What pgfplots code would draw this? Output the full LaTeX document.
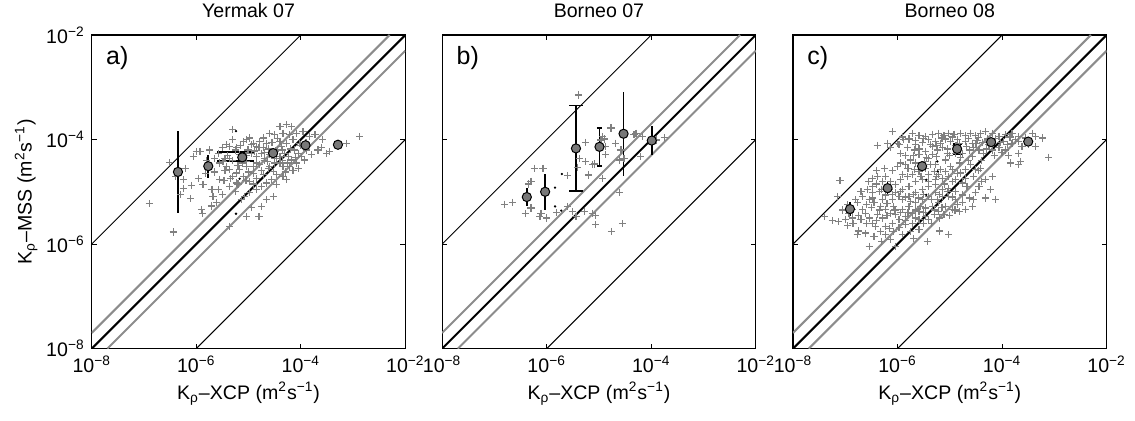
\documentclass[border=0pt]{standalone}
\usepackage{fontspec}
\setmainfont{Liberation Sans}
\usepackage{pgfplots}
\usepackage{pgfplotstable}
\pgfplotsset{compat=1.18}
\usetikzlibrary{calc}

\definecolor{ptgray}{gray}{0.5}
\definecolor{lngray}{gray}{0.55}
\definecolor{binfill}{gray}{0.47}

% log10 values of K_rho (XCP, MSS)
\pgfplotstableread{
lx lm
-6.90 -5.23
-6.44 -5.77
-6.51 -4.44
-6.25 -4.77
-6.25 -4.93
-6.09 -4.88
-6.11 -5.13
-5.96 -4.74
-6.06 -4.32
-6.00 -4.23
-5.93 -4.23
-5.74 -4.20
-5.82 -4.65
-5.87 -4.86
-5.90 -5.34
-5.88 -5.41
-5.71 -5.27
-5.68 -5.09
-5.58 -4.96
-5.55 -4.77
-5.47 -4.78
-5.30 -3.81
-5.42 -4.10
-5.36 -4.13
-5.45 -4.36
-5.42 -4.51
-5.36 -4.58
-5.30 -4.71
-5.23 -4.64
-5.17 -4.58
-5.10 -4.04
-5.04 -4.00
-4.98 -3.97
-4.91 -4.07
-4.85 -4.13
-5.01 -4.20
-4.95 -4.26
-4.79 -4.04
-4.72 -3.97
-4.66 -4.07
-4.72 -4.16
-4.75 -4.26
-4.69 -4.36
-4.63 -4.42
-4.60 -4.51
-4.53 -4.61
-4.47 -4.67
-4.56 -4.77
-4.66 -4.83
-4.75 -4.90
-4.85 -4.96
-4.98 -5.02
-5.07 -5.09
-5.14 -5.15
-5.04 -5.47
-4.80 -5.48
-5.36 -5.66
-4.40 -3.75
-4.28 -3.72
-4.18 -3.75
-4.34 -3.88
-4.21 -3.91
-4.15 -4.00
-4.28 -4.07
-4.37 -4.13
-4.44 -4.20
-4.31 -4.26
-4.24 -4.32
-4.18 -4.39
-4.12 -4.20
-4.05 -4.26
-3.99 -4.32
-3.93 -4.39
-4.09 -3.88
-3.96 -3.85
-3.83 -3.94
-3.73 -3.91
-3.67 -4.20
-3.61 -4.16
-3.51 -4.26
-3.45 -4.23
-3.80 -4.29
-4.02 -4.07
-3.89 -4.20
-4.50 -3.91
-4.60 -3.88
-4.34 -4.51
-4.40 -4.45
-4.21 -4.51
-4.09 -4.45
-2.87 -3.94
-3.13 -4.07
-3.58 -4.00
-4.72 -4.67
-4.85 -4.74
-4.98 -4.80
-5.10 -4.71
-5.23 -4.83
-5.36 -4.90
-5.49 -4.42
-5.55 -4.45
-5.58 -4.26
-5.65 -4.36
-5.74 -4.51
-4.47 -4.86
-4.53 -5.09
-4.66 -5.15
-4.75 -5.28
-4.47 -4.36
-4.60 -4.29
-4.85 -4.32
-4.79 -4.48
-4.91 -4.51
-5.04 -4.42
-5.17 -4.29
-5.23 -4.16
-5.30 -4.00
-5.36 -4.36
-5.04 -4.51
-4.40 -4.04
-4.34 -4.71
-4.28 -4.77
-5.25 -4.20
-5.15 -4.12
-5.05 -4.30
-4.95 -4.10
-4.88 -4.22
-4.80 -4.15
-4.70 -4.25
-4.62 -4.18
-4.55 -4.30
-4.48 -4.22
-4.40 -4.32
-4.35 -4.40
-4.25 -4.45
-4.50 -4.45
-4.62 -4.55
-4.75 -4.60
-4.90 -4.65
-5.00 -4.62
-5.12 -4.45
-5.20 -4.50
-5.30 -4.40
-5.40 -4.30
-5.50 -4.15
-5.45 -4.60
-5.35 -4.75
-5.20 -4.85
-5.05 -4.78
-4.90 -4.85
-4.85 -4.45
-4.70 -4.40
-4.55 -4.05
-4.45 -3.98
-4.35 -4.20
-4.20 -4.18
-4.10 -4.35
-4.00 -4.12
-3.90 -4.05
-4.15 -4.60
-4.30 -4.62
-4.05 -4.55
-5.65 -4.62
-5.80 -4.40
-5.70 -4.95
-5.62 -5.20
-5.50 -5.05
-5.25 -5.00
-4.95 -5.30
-6.20 -4.55
-6.30 -5.05
-6.40 -4.70
}\scatYermak

\pgfplotstableread{
lx lm
-5.39 -3.15
-5.26 -4.05
-6.24 -4.55
-6.07 -4.55
-6.35 -4.85
-6.30 -4.80
-6.81 -5.24
-6.65 -5.20
-6.41 -5.41
-6.30 -5.31
-6.11 -5.41
-6.13 -5.48
-6.00 -5.50
-5.81 -5.40
-5.60 -4.69
-5.38 -4.36
-5.26 -4.42
-5.12 -4.48
-5.41 -4.53
-5.20 -4.68
-4.93 -4.74
-5.09 -4.47
-4.87 -4.29
-4.90 -3.99
-4.77 -3.78
-4.93 -3.94
-4.68 -4.07
-4.58 -4.20
-4.61 -4.39
-4.52 -4.36
-4.29 -3.88
-4.17 -3.94
-4.20 -4.33
-3.75 -3.96
-5.60 -5.28
-5.50 -5.38
-5.44 -5.47
-5.28 -5.38
-5.12 -5.41
-5.07 -5.46
-5.06 -5.63
-4.60 -5.02
-4.55 -5.61
-4.76 -5.76
-3.91 -4.01
-4.33 -3.91
-4.96 -4.01
-4.87 -4.13
}\scatBorA

\pgfplotstableread{
lx lm
-6.10 -3.85
-5.72 -3.88
-5.59 -3.93
-5.46 -3.94
-5.33 -3.90
-5.21 -3.88
-5.11 -3.93
-5.02 -3.88
-4.92 -3.90
-4.79 -3.88
-4.70 -3.93
-4.60 -3.88
-4.51 -3.93
-4.41 -3.88
-4.32 -3.85
-4.19 -3.88
-4.06 -3.94
-3.93 -3.91
-3.81 -3.88
-3.68 -3.94
-3.42 -3.88
-3.36 -3.94
-3.23 -3.97
-5.78 -3.99
-5.65 -4.02
-5.53 -4.06
-5.40 -4.00
-5.27 -4.04
-5.18 -4.07
-5.08 -3.99
-4.98 -4.04
-4.70 -4.04
-4.57 -4.07
-4.48 -4.02
-4.38 -4.06
-4.28 -3.99
-4.03 -4.06
-3.90 -4.10
-3.81 -4.07
-3.68 -4.04
-3.62 -4.13
-3.36 -4.13
-3.93 -4.20
-5.81 -4.16
-5.68 -4.20
-5.59 -4.18
-5.46 -4.23
-5.33 -4.13
-5.24 -4.20
-5.14 -4.16
-5.05 -4.26
-4.76 -4.26
-4.63 -4.20
-4.54 -4.16
-4.44 -4.20
-4.35 -4.26
-4.19 -4.20
-4.06 -4.16
-5.59 -4.29
-5.33 -4.29
-4.57 -4.32
-3.68 -4.26
-3.11 -4.34
-3.84 -4.45
-3.65 -4.42
-3.68 -4.48
-6.39 -4.11
-6.19 -4.07
-6.13 -4.16
-7.10 -4.79
-7.15 -5.09
-7.40 -5.47
-7.13 -5.57
-6.99 -5.53
-6.86 -5.50
-6.77 -5.82
-6.61 -5.79
-6.54 -6.04
-6.48 -4.74
-6.29 -4.80
-6.13 -4.80
-6.04 -4.86
-5.91 -4.67
-6.00 -4.51
-5.84 -4.48
-5.75 -4.39
-5.68 -4.58
-5.40 -4.36
-5.27 -4.48
-5.18 -4.58
-5.08 -4.39
-4.98 -4.51
-4.82 -4.45
-4.70 -4.58
-4.60 -4.48
-4.51 -4.58
-4.41 -4.55
-4.32 -4.77
-4.19 -4.71
-4.32 -5.12
-4.12 -5.14
-4.51 -5.02
-4.67 -4.90
-4.76 -4.83
-4.89 -4.77
-5.02 -4.71
-5.14 -4.74
-5.27 -4.77
-5.40 -4.67
-5.53 -4.77
-5.65 -4.80
-5.78 -4.90
-5.91 -4.96
-5.97 -5.09
-6.10 -5.15
-6.23 -5.06
-6.35 -4.99
-6.48 -5.02
-6.54 -5.15
-6.45 -5.21
-6.32 -5.28
-6.23 -5.34
-6.13 -5.41
-6.04 -5.44
-5.91 -5.34
-5.78 -5.28
-5.65 -5.21
-5.53 -5.15
-5.40 -5.09
-5.27 -5.02
-5.14 -4.96
-5.02 -4.93
-4.89 -4.99
-4.76 -5.06
-4.63 -5.12
-4.57 -5.28
-4.70 -5.34
-4.82 -5.37
-4.95 -5.34
-5.08 -5.28
-5.21 -5.21
-5.33 -5.28
-5.46 -5.31
-5.59 -5.37
-5.72 -5.41
-5.84 -5.47
-5.97 -5.53
-6.10 -5.60
-6.23 -5.66
-6.29 -5.50
-6.39 -5.44
-6.48 -5.60
-6.61 -5.41
-6.67 -5.34
-6.70 -5.53
-6.54 -5.50
-6.42 -5.66
-6.32 -5.76
-6.23 -5.82
-6.07 -5.76
-5.97 -5.69
-5.84 -5.63
-5.72 -5.60
-5.59 -5.53
-5.46 -5.47
-5.30 -5.44
-5.21 -5.37
-5.02 -5.82
-5.43 -5.95
-6.04 -6.04
-6.13 -5.91
-5.59 -5.72
-5.75 -5.76
-5.91 -5.82
-6.48 -5.12
-6.29 -5.15
-6.16 -4.96
-6.04 -5.02
-5.91 -5.15
-5.78 -5.09
-5.65 -5.02
-5.53 -4.96
-5.40 -4.90
-5.27 -4.86
-5.14 -5.09
-5.02 -5.09
-4.89 -5.15
-4.76 -5.21
-5.72 -4.67
-5.59 -4.61
-5.46 -4.55
-5.30 -4.61
-5.21 -4.67
-5.08 -4.61
-4.95 -4.58
-4.89 -4.26
-4.82 -4.07
-6.23 -4.71
-6.39 -4.71
-6.48 -4.90
-6.58 -4.96
-6.67 -5.09
-6.77 -5.21
-6.86 -5.34
-6.93 -5.41
-6.00 -4.07
-5.88 -4.00
-5.94 -4.26
-5.49 -4.42
-5.37 -4.48
-4.79 -4.64
-4.22 -4.96
-4.44 -4.90
-4.54 -5.15
-5.94 -4.77
-5.81 -4.71
-6.07 -5.28
-5.75 -5.18
-5.56 -5.28
-5.24 -5.15
-5.11 -5.44
-5.40 -5.53
-5.50 -3.98
-5.37 -4.09
-5.15 -3.97
-4.95 -3.95
-4.85 -4.00
-4.65 -3.98
-4.45 -3.96
-4.25 -4.10
-4.12 -3.98
-3.98 -4.04
-3.85 -3.95
-3.75 -4.00
-3.55 -3.97
-3.50 -4.10
-5.65 -4.10
-5.25 -4.12
-5.05 -4.18
-4.88 -4.12
-4.68 -4.14
-4.50 -4.08
-4.30 -4.18
-4.15 -4.30
-4.00 -4.25
-3.88 -4.30
-5.90 -3.95
-5.97 -4.10
-5.85 -4.30
-5.70 -4.30
-5.45 -4.35
-5.25 -4.32
-5.00 -4.30
-4.80 -4.35
-4.65 -4.40
-4.40 -4.40
-6.40 -4.85
-6.30 -4.95
-6.20 -5.22
-6.10 -5.05
-5.95 -5.00
-5.85 -5.10
-5.70 -5.05
-5.60 -5.12
-5.50 -5.05
-5.35 -5.15
-5.20 -5.05
-5.05 -5.00
-4.95 -5.10
-4.85 -5.25
-5.15 -5.30
-5.30 -5.35
-5.50 -5.40
-5.65 -5.35
-5.80 -5.40
-5.95 -5.40
-6.05 -5.35
-6.20 -5.45
-6.35 -5.35
-6.50 -5.30
-6.60 -5.25
-6.75 -5.45
-6.85 -5.60
-6.60 -5.60
-6.40 -5.55
-6.15 -5.70
-5.85 -5.55
-5.65 -5.50
-5.50 -5.60
-5.35 -5.60
-5.20 -5.50
-5.00 -5.45
-4.90 -5.35
-6.55 -4.80
-6.40 -4.60
-6.25 -4.55
-6.10 -4.60
-5.95 -4.45
-5.80 -4.55
-5.65 -4.45
-5.55 -4.70
-5.40 -4.80
-5.25 -4.70
-5.10 -4.85
-4.95 -4.80
-4.85 -4.65
-4.70 -4.75
-4.55 -4.70
-4.45 -4.60
-4.40 -4.80
-6.70 -5.00
-6.80 -5.15
-6.95 -5.25
-7.05 -5.35
-7.25 -5.55
-6.95 -5.65
-6.75 -5.75
-6.45 -5.85
-6.30 -5.95
-5.70 -5.90
-5.20 -5.75
}\scatBorB

\newcommand{\tfont}{\fontsize{9.8}{11}\selectfont}
\newcommand{\pfont}{\fontsize{12.5}{14}\selectfont}

\pgfplotsset{
  kpanel/.style={
    scale only axis, width=157pt, height=157pt,
    xmin=-8, xmax=-2, ymin=-8, ymax=-2,
    xtick={-8,-6,-4,-2}, ytick={-8,-6,-4,-2},
    xticklabels={10\textsuperscript{−8},10\textsuperscript{−6},10\textsuperscript{−4},10\textsuperscript{−2}},
    yticklabels={10\textsuperscript{−8},10\textsuperscript{−6},10\textsuperscript{−4},10\textsuperscript{−2}},
    tick align=inside, tick pos=both, major tick length=2.5pt,
    axis line style={line width=0.6pt},
    tick style={black, line width=0.5pt},
    ticklabel style={font=\tfont},
    label style={font=\tfont},
    title style={font=\tfont, yshift=-1pt},
    xlabel={K\textsubscript{ρ}–XCP (m\textsuperscript{2}s\textsuperscript{−1})},
    xlabel style={yshift=2pt},
  },
  scat/.style={only marks, mark=+, mark size=1.8pt, ptgray,
    mark options={line width=0.6pt}},
  bins/.style={only marks, mark=*, mark size=2.3pt,
    mark options={fill=binfill, draw=black, line width=0.5pt},
    error bars/.cd, y dir=both, y explicit, error mark=none,
    error bar style={line width=0.9pt, black}},
  cap/.style={black, line width=0.9pt},
}

\newcommand{\diagonals}{%
  \addplot[black, line width=0.5pt] coordinates {(-8,-6) (-4,-2)};
  \addplot[black, line width=0.5pt] coordinates {(-6,-8) (-2,-4)};
  \addplot[lngray, line width=1pt] coordinates {(-8,-7.699) (-2.301,-2)};
  \addplot[lngray, line width=1pt] coordinates {(-7.699,-8) (-2,-2.301)};
  \addplot[black, line width=1pt] coordinates {(-8,-8) (-2,-2)};
}

\begin{document}
\begin{tikzpicture}
% a) Yermak 07
\begin{axis}[kpanel, name=pa, title={Yermak 07},
  ylabel={K\textsubscript{ρ}–MSS (m\textsuperscript{2}s\textsuperscript{−1})},
  ylabel shift=-2.5pt]
\addplot[scat] table[x=lx, y=lm] {\scatYermak};
\addplot[only marks, mark=*, mark size=0.35pt, black] coordinates {(-5.24,-3.84) (-5.17,-4.75) (-5.24,-5.42)};
\diagonals
\addplot[cap] coordinates {(-5.60,-4.24) (-4.90,-4.24)};
\addplot[cap] coordinates {(-5.60,-4.41) (-4.90,-4.41)};
\addplot[bins] coordinates {
  (-6.35,-4.62) += (0,0.775) -= (0,0.785)
  (-5.77,-4.51) += (0,0.22) -= (0,0.22)
  (-5.12,-4.34) += (0,0.10) -= (0,0.07)
  (-4.53,-4.26) += (0,0) -= (0,0)
  (-3.91,-4.11) += (0,0) -= (0,0)
  (-3.29,-4.10) += (0,0) -= (0,0)
};
\node[anchor=north west, inner sep=0pt, font=\pfont] at (rel axis cs:0.045,0.965) {a)};
\end{axis}

% b) Borneo 07
\begin{axis}[kpanel, name=pb, at={(pa.south east)}, anchor=south west,
  xshift=18.4pt, title={Borneo 07}, yticklabels={}]
\addplot[scat] table[x=lx, y=lm] {\scatBorA};
\addplot[only marks, mark=*, mark size=0.35pt, black] coordinates {(-5.71,-4.66) (-5.84,-4.92) (-5.84,-5.28) (-5.72,-5.36)};
\diagonals
\addplot[cap] coordinates {(-5.57,-3.35) (-5.31,-3.35)};
\addplot[cap] coordinates {(-5.57,-4.99) (-5.31,-4.99)};
\addplot[cap] coordinates {(-5.04,-3.78) (-4.95,-3.78)};
\addplot[cap] coordinates {(-5.04,-4.50) (-4.95,-4.50)};
\addplot[bins] coordinates {
  (-6.38,-5.10) += (0,0.17) -= (0,0.18)
  (-6.03,-5.00) += (0,0.34) -= (0,0.34)
  (-5.44,-4.17) += (0,0.82) -= (0,0.82)
  (-4.99,-4.14) += (0,0.36) -= (0,0.36)
  (-4.53,-3.89) += (0,0.79) -= (0,0.81)
  (-3.99,-4.02) += (0,0.27) -= (0,0.27)
};
\node[anchor=north west, inner sep=0pt, font=\pfont] at (rel axis cs:0.045,0.965) {b)};
\end{axis}

% c) Borneo 08
\begin{axis}[kpanel, name=pc, at={(pb.south east)}, anchor=south west,
  xshift=18.6pt, title={Borneo 08}, yticklabels={}]
\addplot[scat] table[x=lx, y=lm] {\scatBorB};
\addplot[only marks, mark=*, mark size=0.35pt, black] coordinates {(-5.24,-4.42) (-5.23,-4.61) (-5.45,-4.77) (-5.45,-5.06)};
\diagonals
\addplot[cap] coordinates {(-4.94,-4.09) (-4.76,-4.09)};
\addplot[cap] coordinates {(-4.94,-4.28) (-4.76,-4.28)};
\addplot[bins] coordinates {
  (-6.91,-5.33) += (0,0.13) -= (0,0.14)
  (-6.19,-4.93) += (0,0.13) -= (0,0.11)
  (-5.53,-4.51) += (0,0) -= (0,0)
  (-4.86,-4.18) += (0,0.095) -= (0,0.095)
  (-4.21,-4.05) += (0,0) -= (0,0)
  (-3.50,-4.04) += (0,0) -= (0,0)
};
\node[anchor=north west, inner sep=0pt, font=\pfont] at (rel axis cs:0.045,0.965) {c)};
\end{axis}

\pgfresetboundingbox
\path[use as bounding box] ($(pa.south west)+(-45.9pt,-35.9pt)$) rectangle ($(pc.north east)+(14.2pt,17.5pt)$);
\end{tikzpicture}
\end{document}
